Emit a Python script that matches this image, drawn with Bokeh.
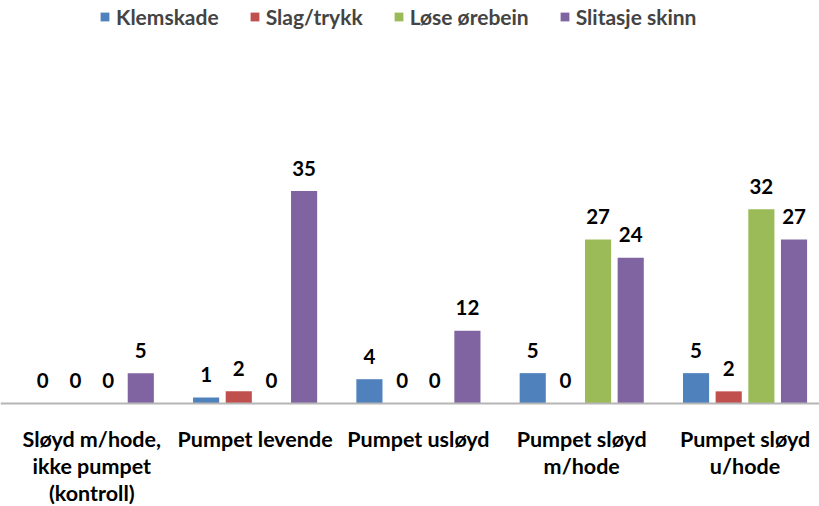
from bokeh.plotting import figure
from bokeh.models import ColumnDataSource, Range1d, Span, Legend, LegendItem
from bokeh.transform import dodge
from bokeh.core.properties import value
from bokeh.embed import file_html
from bokeh.resources import INLINE

categories = ["Sløyd m/hode,\nikke pumpet\n(kontroll)", "Pumpet levende", "Pumpet usløyd",
              "Pumpet sløyd\nm/hode", "Pumpet sløyd\nu/hode"]
series_names = ["Klemskade", "Slag/trykk", "Løse ørebein", "Slitasje skinn"]
klemskade = [0, 1, 4, 5, 5]
slag_trykk = [0, 2, 0, 0, 2]
lose_orebein = [0, 0, 0, 27, 32]
slitasje_skinn = [5, 35, 12, 24, 27]
colors = ["#4F81BD", "#C0504D", "#9BBB59", "#8064A2"]

FONT = "Lato"
idx = list(range(len(categories)))

p = figure(width=819, height=506, output_backend="svg", toolbar_location=None,
           x_range=Range1d(-0.559, 4.456), y_range=Range1d(-16.97, 66.39),
           x_axis_location=None, y_axis_location=None, min_border=0)
p.outline_line_color = None
p.xgrid.visible = False
p.ygrid.visible = False

p.add_layout(Span(location=0, dimension="width", line_color="#b5b5b5", line_width=2))

offsets = [-0.3, -0.1, 0.1, 0.3]
items = []
for name, vals, col, off in zip(series_names, [klemskade, slag_trykk, lose_orebein, slitasje_skinn], colors, offsets):
    src = ColumnDataSource(dict(x=idx, v=vals, t=[str(v) for v in vals]))
    r = p.vbar(x=dodge("x", off), top="v", bottom=0, width=0.16, source=src,
               fill_color=col, line_color=None)
    p.text(x=dodge("x", off), y="v", text="t", source=src, text_align="center",
           text_baseline="alphabetic", y_offset=-23, text_font=value(FONT),
           text_font_style="bold", text_font_size="20.5px", text_color="#000000")
    items.append(LegendItem(label=name, renderers=[r]))

p.text(x=idx, y=[0] * len(idx), text=categories, text_align="center", text_baseline="top",
       y_offset=23, text_font=value(FONT), text_font_style="bold", text_font_size="21.5px",
       text_color="#000000", text_line_height=1.02)

legend = Legend(items=items, orientation="horizontal", location=(99, 477),
                label_text_font=FONT, label_text_font_style="bold", label_text_font_size="21px",
                glyph_width=11, glyph_height=11, label_standoff=6, spacing=30,
                padding=0, margin=0, border_line_color=None, background_fill_alpha=0)
p.add_layout(legend)

open("out.html", "w").write(file_html(p, INLINE))
